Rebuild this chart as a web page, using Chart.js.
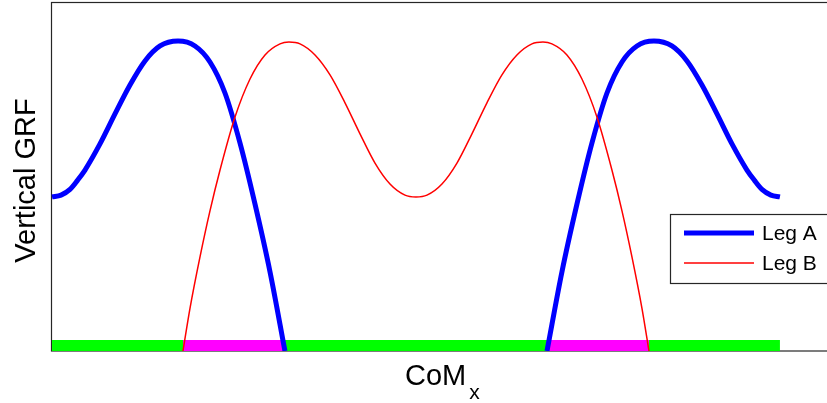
<!DOCTYPE html>
<html>
<head>
<meta charset="utf-8">
<script src="https://cdn.jsdelivr.net/npm/chart.js@4.4.1/dist/chart.umd.min.js"></script>
<style>
  html, body { margin: 0; padding: 0; background: #fff; overflow: hidden; }
  #wrap { width: 827px; height: 403px; overflow: hidden; position: relative; }
  canvas { display: block; }
</style>
</head>
<body>
<div id="wrap"><canvas id="c" width="880" height="403"></canvas></div>
<script>
// Centre-of-mass position along the stride (0–100) and vertical ground reaction force
const legAx1 = [0.0, 1.24, 2.47, 3.5, 4.53, 6.59, 8.65, 10.71, 12.77, 14.84, 17.31, 19.64, 21.70, 23.76, 25.82, 27.88, 29.95, 32.0];
const legAy1 = [0.596, 0.603, 0.625, 0.660, 0.700, 0.801, 0.917, 1.029, 1.122, 1.180, 1.199, 1.180, 1.118, 0.998, 0.805, 0.569, 0.306, 0.0];
const legAx2 = [68.0, 70.05, 72.12, 74.18, 76.24, 78.30, 80.36, 82.69, 85.16, 87.23, 89.29, 91.35, 93.41, 95.47, 96.5, 97.53, 98.76, 100.0];
const legAy2 = [0.0, 0.306, 0.569, 0.805, 0.998, 1.118, 1.180, 1.199, 1.180, 1.122, 1.029, 0.917, 0.801, 0.700, 0.660, 0.625, 0.603, 0.596];
const legBx = [17.99, 18.96, 20.33, 21.70, 23.08, 25.14, 27.20, 29.26, 31.32, 32.55, 34.07, 36.13, 38.19, 40.25, 42.31, 44.37, 46.43, 48.49, 50.0,
  51.51, 53.57, 55.63, 57.69, 59.75, 61.81, 63.87, 65.93, 67.45, 68.68, 70.74, 72.80, 74.86, 76.92, 78.30, 79.67, 81.04, 82.01];
const legBy = [0.0, 0.166, 0.364, 0.542, 0.700, 0.905, 1.052, 1.145, 1.188, 1.195, 1.188, 1.145, 1.068, 0.960, 0.840, 0.727, 0.646, 0.603, 0.596,
  0.603, 0.646, 0.727, 0.840, 0.960, 1.068, 1.145, 1.188, 1.195, 1.188, 1.145, 1.052, 0.905, 0.700, 0.542, 0.364, 0.166, 0.0];

// Support phases along the stride: single, double, single, double, single
const phaseEdges = [0, 18, 32, 68, 82, 100];
const phaseDouble = [false, true, false, true, false];
const phaseLevel = 0.0213;

const seriesNames = ['Leg A', 'Leg B'];

const pts = (xs, ys) => xs.map((x, i) => ({ x: x, y: ys[i] }));

const datasets = [];
for (let i = 0; i < phaseDouble.length; i++) {
  datasets.push({
    data: [{ x: phaseEdges[i], y: phaseLevel }, { x: phaseEdges[i + 1], y: phaseLevel }],
    borderColor: phaseDouble[i] ? '#ff00ff' : '#00ff00',
    borderWidth: 11,
    borderCapStyle: 'butt',
    showLine: true,
    pointRadius: 0,
    order: 3
  });
}
const legAStyle = { borderColor: '#0000ff', borderWidth: 5, showLine: true, pointRadius: 0,
  cubicInterpolationMode: 'monotone', borderJoinStyle: 'round', borderCapStyle: 'butt', order: 2 };
datasets.push(Object.assign({ label: seriesNames[0], data: pts(legAx1, legAy1) }, legAStyle));
datasets.push(Object.assign({ label: seriesNames[0], data: pts(legAx2, legAy2) }, legAStyle));
datasets.push({ label: seriesNames[1], data: pts(legBx, legBy), borderColor: '#ff0000', borderWidth: 1.5,
  showLine: true, pointRadius: 0, cubicInterpolationMode: 'monotone', order: 1 });

const FONT = '"Liberation Sans", Arial, Helvetica, sans-serif';

// Axes frame drawn under the curves
const framePlugin = {
  id: 'frame',
  beforeDatasetsDraw(chart) {
    const a = chart.chartArea, ctx = chart.ctx;
    ctx.save();
    ctx.strokeStyle = '#262626';
    ctx.lineWidth = 1.2;
    ctx.strokeRect(Math.round(a.left) + 0.5, Math.round(a.top) + 0.5,
      Math.round(a.right - a.left), Math.round(a.bottom - a.top) - 0.5);
    ctx.restore();
  }
};

// Axis titles and the legend box
const labelPlugin = {
  id: 'labels',
  afterDraw(chart) {
    const ctx = chart.ctx, a = chart.chartArea;
    ctx.save();
    ctx.fillStyle = '#000';
    ctx.textBaseline = 'alphabetic';

    // y-axis title
    ctx.save();
    ctx.translate(35, (a.top + a.bottom) / 2 + 4);
    ctx.rotate(-Math.PI / 2);
    ctx.font = '29px ' + FONT;
    ctx.textAlign = 'center';
    ctx.fillText('Vertical GRF', 0, 0);
    ctx.restore();

    // x-axis title with subscript
    ctx.textAlign = 'left';
    ctx.font = '29px ' + FONT;
    const main = 'CoM';
    const wMain = ctx.measureText(main).width;
    ctx.fillText(main, 405, 385);
    ctx.font = '21px ' + FONT;
    ctx.fillText('x', 405 + wMain + 3, 399);

    // legend
    const lx = 670.5, ly = 214.5, lw = 200, lh = 69;
    ctx.fillStyle = '#fff';
    ctx.fillRect(lx, ly, lw, lh);
    ctx.strokeStyle = '#262626';
    ctx.lineWidth = 1.2;
    ctx.strokeRect(lx, ly, lw, lh);
    const rows = [
      { name: seriesNames[0], color: '#0000ff', width: 5, y: 233 },
      { name: seriesNames[1], color: '#ff0000', width: 1.5, y: 263 }
    ];
    ctx.font = '21px ' + FONT;
    ctx.textBaseline = 'middle';
    rows.forEach(r => {
      ctx.beginPath();
      ctx.strokeStyle = r.color;
      ctx.lineWidth = r.width;
      ctx.lineCap = 'butt';
      ctx.moveTo(684, r.y);
      ctx.lineTo(754, r.y);
      ctx.stroke();
      ctx.fillStyle = '#000';
      ctx.fillText(r.name, 762, r.y + 1);
    });
    ctx.restore();
  }
};

new Chart(document.getElementById('c'), {
  type: 'scatter',
  data: { datasets: datasets },
  options: {
    responsive: false,
    animation: false,
    devicePixelRatio: 1,
    layout: { padding: { left: 51, top: 2, right: 20, bottom: 52 } },
    plugins: { legend: { display: false }, tooltip: { enabled: false } },
    scales: {
      x: { type: 'linear', min: -0.14, max: 111, display: false },
      y: { type: 'linear', min: 0, max: 1.35, display: false }
    }
  },
  plugins: [framePlugin, labelPlugin]
});
</script>
</body>
</html>
